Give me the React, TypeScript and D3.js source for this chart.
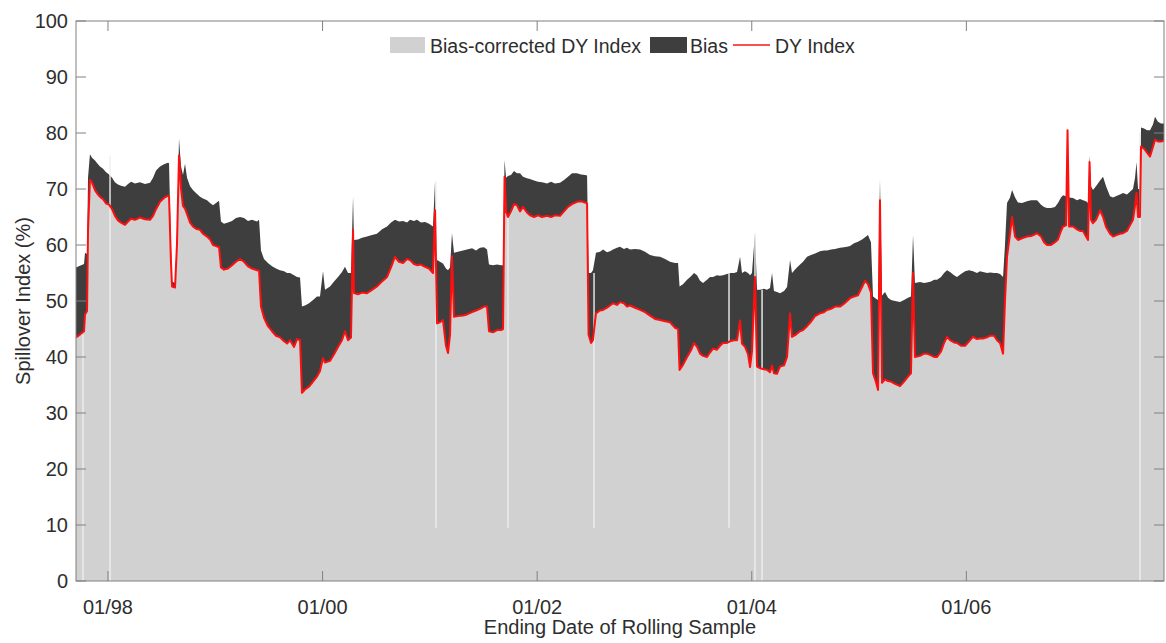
import React from "react";
import * as d3 from "d3";

// Ending date of each rolling sample, in decimal years
const dates = [
  1997.702, 1997.739, 1997.777, 1997.786, 1997.805, 1997.814, 1997.832, 1997.851, 1997.879, 1997.907,
  1997.926, 1997.954, 1997.982, 1998.010, 1998.038, 1998.065, 1998.093, 1998.121, 1998.159, 1998.187,
  1998.215, 1998.252, 1998.298, 1998.345, 1998.392, 1998.420, 1998.448, 1998.485, 1998.522, 1998.559,
  1998.569, 1998.587, 1998.597, 1998.625, 1998.643, 1998.662, 1998.681, 1998.699, 1998.718, 1998.737,
  1998.765, 1998.792, 1998.820, 1998.858, 1998.886, 1998.923, 1998.951, 1998.979, 1999.007, 1999.035,
  1999.053, 1999.081, 1999.119, 1999.156, 1999.193, 1999.231, 1999.268, 1999.305, 1999.342, 1999.389,
  1999.408, 1999.426, 1999.454, 1999.491, 1999.529, 1999.566, 1999.603, 1999.641, 1999.669, 1999.697,
  1999.734, 1999.762, 1999.790, 1999.808, 1999.836, 1999.874, 1999.911, 1999.948, 1999.976, 2000.004,
  2000.023, 2000.069, 2000.107, 2000.144, 2000.181, 2000.209, 2000.237, 2000.265, 2000.284, 2000.293,
  2000.330, 2000.368, 2000.414, 2000.461, 2000.507, 2000.554, 2000.601, 2000.638, 2000.675, 2000.712,
  2000.750, 2000.787, 2000.815, 2000.852, 2000.880, 2000.917, 2000.955, 2000.992, 2001.029, 2001.048,
  2001.067, 2001.094, 2001.122, 2001.150, 2001.169, 2001.188, 2001.206, 2001.225, 2001.262, 2001.309,
  2001.346, 2001.393, 2001.430, 2001.467, 2001.505, 2001.533, 2001.551, 2001.588, 2001.626, 2001.663,
  2001.682, 2001.696, 2001.710, 2001.728, 2001.756, 2001.784, 2001.812, 2001.840, 2001.868, 2001.905,
  2001.933, 2001.971, 2002.008, 2002.045, 2002.092, 2002.129, 2002.166, 2002.213, 2002.250, 2002.287,
  2002.325, 2002.371, 2002.409, 2002.446, 2002.465, 2002.479, 2002.502, 2002.520, 2002.548, 2002.586,
  2002.614, 2002.651, 2002.679, 2002.707, 2002.744, 2002.772, 2002.809, 2002.837, 2002.865, 2002.912,
  2002.959, 2003.005, 2003.052, 2003.098, 2003.145, 2003.192, 2003.238, 2003.285, 2003.313, 2003.327,
  2003.359, 2003.397, 2003.434, 2003.462, 2003.490, 2003.518, 2003.546, 2003.583, 2003.611, 2003.639,
  2003.676, 2003.704, 2003.732, 2003.769, 2003.797, 2003.835, 2003.863, 2003.891, 2003.909, 2003.937,
  2003.965, 2003.984, 2004.002, 2004.030, 2004.049, 2004.077, 2004.114, 2004.142, 2004.170, 2004.189,
  2004.207, 2004.235, 2004.263, 2004.301, 2004.329, 2004.357, 2004.375, 2004.412, 2004.450, 2004.478,
  2004.515, 2004.552, 2004.590, 2004.636, 2004.673, 2004.701, 2004.739, 2004.776, 2004.823, 2004.860,
  2004.888, 2004.916, 2004.953, 2004.990, 2005.028, 2005.056, 2005.083, 2005.111, 2005.130, 2005.158,
  2005.177, 2005.195, 2005.214, 2005.242, 2005.270, 2005.298, 2005.335, 2005.382, 2005.419, 2005.456,
  2005.484, 2005.503, 2005.521, 2005.568, 2005.605, 2005.633, 2005.671, 2005.699, 2005.727, 2005.764,
  2005.792, 2005.820, 2005.848, 2005.885, 2005.913, 2005.950, 2005.988, 2006.025, 2006.062, 2006.099,
  2006.127, 2006.155, 2006.193, 2006.221, 2006.258, 2006.286, 2006.314, 2006.342, 2006.360, 2006.379,
  2006.407, 2006.426, 2006.454, 2006.481, 2006.519, 2006.565, 2006.603, 2006.659, 2006.696, 2006.724,
  2006.752, 2006.789, 2006.826, 2006.854, 2006.882, 2006.901, 2006.929, 2006.943, 2006.957, 2006.994,
  2007.031, 2007.059, 2007.087, 2007.115, 2007.134, 2007.148, 2007.162, 2007.180, 2007.208, 2007.246,
  2007.274, 2007.302, 2007.339, 2007.367, 2007.404, 2007.432, 2007.460, 2007.497, 2007.525, 2007.553,
  2007.572, 2007.586, 2007.600, 2007.618, 2007.628, 2007.656, 2007.684, 2007.712, 2007.739, 2007.758,
  2007.786, 2007.814, 2007.842,
];

// Bias-corrected index level (also the DY index trace), %
const correctedIndex = [
  43.5, 44.0, 44.6, 47.6, 48.2, 62.5, 71.6, 71.2, 69.8, 69.0,
  68.6, 68.2, 67.4, 67.2, 66.4, 65.2, 64.4, 64.0, 63.6, 64.2,
  64.7, 64.5, 64.9, 64.6, 64.5, 65.2, 66.4, 67.7, 68.4, 68.8,
  68.6, 57.0, 52.6, 52.4, 60.0, 76.0, 70.0, 67.0, 66.5, 65.5,
  64.0, 63.3, 62.9, 62.7, 62.0, 61.5, 61.0, 60.0, 59.8, 59.6,
  56.0, 55.6, 55.8, 56.4, 57.0, 57.5, 57.0, 56.2, 55.8, 55.5,
  55.4, 49.0, 47.0, 45.5, 44.6, 43.8, 43.5, 42.8, 42.4, 43.0,
  41.8, 43.2, 43.0, 33.6, 34.2, 34.7, 35.6, 36.5, 37.5, 39.8,
  39.0, 39.3, 40.5, 41.8, 43.0, 44.6, 43.0, 43.5, 62.7, 51.4,
  51.2, 51.5, 51.4, 52.0, 52.6, 53.5, 54.3, 56.0, 57.9, 57.0,
  56.8, 57.5, 57.3, 56.6, 56.4, 56.5, 56.1, 55.8, 55.0, 66.2,
  46.0, 46.2, 46.6, 42.0, 40.7, 44.0, 58.0, 47.2, 47.3, 47.4,
  47.6, 48.0, 48.3, 48.6, 49.0, 49.0, 44.6, 44.4, 44.8, 44.8,
  45.0, 72.2, 66.0, 65.0, 66.0, 67.3, 67.1, 66.0, 66.8, 65.8,
  65.3, 65.0, 65.3, 65.0, 65.2, 65.0, 65.3, 65.2, 66.0, 66.8,
  67.3, 67.7, 67.8, 67.6, 67.4, 44.0, 42.5, 43.0, 47.8, 48.3,
  48.4, 48.8, 49.2, 49.6, 49.3, 49.8, 49.6, 49.0, 49.2, 48.8,
  48.4, 48.0, 47.4, 46.8, 46.6, 46.4, 46.2, 45.2, 45.0, 37.7,
  38.6, 40.0, 41.2, 42.5, 41.8, 40.6, 40.2, 40.0, 40.8, 41.5,
  41.3, 42.0, 42.5, 42.5, 42.8, 43.0, 43.0, 46.5, 42.4, 41.8,
  40.5, 38.2, 41.0, 54.3, 38.3, 38.0, 37.8, 37.7, 37.3, 38.5,
  37.1, 37.0, 38.3, 38.5, 40.0, 47.8, 43.6, 44.0, 44.6, 44.8,
  45.5, 46.3, 47.3, 47.8, 48.0, 48.4, 48.6, 49.0, 49.0, 49.5,
  50.0, 50.5, 50.8, 51.0, 52.5, 53.6, 53.0, 51.5, 37.1, 35.5,
  34.1, 68.0, 35.4, 36.0, 35.7, 35.6, 35.2, 34.8, 35.6, 36.5,
  37.1, 55.0, 40.0, 40.2, 40.6, 40.6, 40.3, 40.0, 40.0, 41.0,
  42.5, 43.6, 43.0, 42.6, 42.5, 42.0, 42.0, 42.8, 43.6, 43.2,
  43.3, 43.3, 43.5, 43.8, 43.8, 43.0, 42.5, 40.6, 50.0, 57.9,
  62.0, 65.0, 61.5, 60.9, 61.2, 61.5, 61.6, 62.1, 61.5, 60.5,
  60.0, 60.0, 60.5, 61.0, 62.5, 63.3, 63.5, 80.5, 63.3, 63.3,
  62.8, 62.5, 62.5, 61.5, 60.9, 74.8, 64.5, 63.9, 64.5, 66.2,
  65.0, 63.2, 62.0, 61.5, 61.8, 62.0, 62.1, 62.5, 63.5, 64.5,
  67.0, 69.3, 65.0, 65.0, 77.6, 77.2, 76.5, 75.8, 77.5, 78.8,
  78.5, 78.5, 78.6,
];

// Upper edge of the bias band, %
const biasUpper = [
  56.0, 56.3, 56.6, 58.6, 58.4, 72.0, 76.2, 75.6, 75.1, 74.4,
  74.0, 73.6, 73.0, 72.6, 72.0, 71.2, 70.8, 70.6, 70.4, 70.9,
  71.3, 71.0, 71.2, 70.9, 71.1, 72.0, 73.3, 74.0, 74.4, 74.7,
  74.6, 60.0, 53.5, 53.2, 62.0, 79.0, 74.0, 72.5, 74.5, 72.0,
  70.5, 69.8, 69.3, 68.6, 68.3, 68.0, 67.5, 67.1, 67.5, 67.9,
  64.2, 63.8, 64.0, 64.3, 64.8, 65.0, 64.8, 64.3, 64.5, 64.2,
  64.5, 59.0, 57.5, 56.8, 56.2, 55.8, 55.5, 55.3, 55.0, 55.0,
  54.6, 54.3, 54.2, 49.0, 49.2, 49.6, 50.2, 50.8, 50.8, 55.3,
  52.0, 52.6, 53.5, 54.3, 55.2, 56.1, 55.0, 55.0, 68.6, 60.9,
  61.0, 61.3, 61.5, 61.8, 62.0, 62.8, 63.3, 64.0, 64.5, 64.2,
  64.3, 64.0, 64.5, 64.3, 64.5, 64.0, 64.1, 63.8, 63.3, 71.3,
  57.3, 57.0, 56.7, 55.8, 55.5, 56.0, 62.1, 58.6, 58.8, 59.0,
  59.2, 59.4, 59.0, 59.5, 59.6, 59.2, 56.5, 56.4, 56.5, 56.4,
  56.4, 75.2, 72.0, 72.3, 72.5, 73.2, 72.8, 72.8, 72.2, 71.9,
  71.8, 71.5, 71.3, 71.2, 71.0, 71.3, 71.0, 71.1, 71.6, 72.2,
  72.8, 72.8, 72.6, 72.5, 72.4, 55.0, 55.0, 55.5, 58.6, 58.8,
  59.2, 58.7, 58.9, 59.2, 59.5, 59.7, 59.3, 59.5, 59.2, 59.3,
  59.2, 58.8, 58.2, 58.0, 57.9, 57.5, 57.0, 56.8, 56.8, 52.6,
  53.0, 53.8, 54.4, 55.0, 54.6, 53.6, 53.2, 53.8, 54.3, 54.3,
  54.6, 54.5, 54.6, 54.8, 55.0, 55.0, 55.2, 57.9, 55.0, 55.3,
  55.0, 54.6, 55.0, 62.1, 52.0, 52.0, 52.2, 52.0, 52.3, 55.0,
  51.8, 51.6, 51.4, 51.8, 52.5, 57.3, 55.0, 55.8, 56.5, 57.0,
  57.9, 58.2, 58.5, 58.9, 59.0, 59.0, 59.2, 59.3, 59.5, 59.6,
  59.7, 59.8, 60.3, 60.6, 61.0, 61.4, 61.8, 60.5, 50.8, 50.4,
  50.2, 71.6, 51.0, 51.6, 50.6, 50.2, 50.0, 49.8, 50.2, 50.6,
  50.8, 61.8, 53.2, 53.4, 53.2, 53.3, 53.5, 53.8, 53.8, 54.3,
  55.0, 55.5, 55.2, 54.6, 54.3, 54.8, 55.3, 55.5, 55.3, 55.0,
  55.3, 55.2, 55.0, 55.1, 55.0, 55.0, 54.8, 54.3, 60.0, 67.5,
  68.5, 69.8, 68.5, 67.6, 67.5, 67.8, 68.0, 68.0, 67.2, 66.8,
  66.6, 66.6, 66.8, 67.5, 68.5, 68.9, 68.7, 80.5, 68.5, 68.4,
  68.0, 68.2, 68.0, 67.8, 67.5, 76.0, 70.5, 69.8, 70.5, 71.5,
  72.2, 70.5, 68.7, 68.5, 68.8, 69.0, 69.3, 69.0, 69.5, 70.0,
  72.0, 74.8, 70.0, 70.0, 81.0, 80.8, 80.5, 80.5, 81.5, 82.9,
  82.0, 81.7, 81.7,
];

// Breaks between rolling windows, drawn as thin pale strokes
const gapDates = [1997.767, 1998.019, 2001.057, 2001.728, 2002.53, 2003.788, 2004.03, 2004.096, 2007.618];
const gapFloors = [0, 0, 9.5, 9.5, 9.5, 9.5, 0, 0, 0];
const gapTops = [44, 76, 71.3, 65, 55, 55, 62.1, 52, 80];

const yTicks = [0, 10, 20, 30, 40, 50, 60, 70, 80, 90, 100];
const xTickYears = [1998, 2000, 2002, 2004, 2006];
const xTickLabels = ["01/98", "01/00", "01/02", "01/04", "01/06"];
const legendLabels = ["Bias-corrected DY Index", "Bias", "DY Index"];

const FONT = "'Liberation Sans', Arial, Helvetica, sans-serif";
const LIGHT = "#d1d1d1";
const DARK = "#3e3e3e";
const RED = "#ff1010";
const AXIS = "#808080";
const TEXT = "#2e2e2e";

export default function App() {
  const W = 1166;
  const H = 643;
  const plot = { left: 76, right: 1164, top: 21, bottom: 581 };

  const x = d3
    .scaleLinear()
    .domain([dates[0], dates[dates.length - 1]])
    .range([plot.left, plot.right]);
  const y = d3.scaleLinear().domain([0, 100]).range([plot.bottom, plot.top]);

  const n = Math.min(dates.length, correctedIndex.length, biasUpper.length);
  const rows = d3.range(n).map((i) => ({ t: dates[i], lo: correctedIndex[i], hi: biasUpper[i] }));

  const lightArea = d3
    .area<any>()
    .x((d) => x(d.t))
    .y0(y(0))
    .y1((d) => y(d.lo))(rows);
  const darkArea = d3
    .area<any>()
    .x((d) => x(d.t))
    .y0((d) => y(d.lo))
    .y1((d) => y(d.hi))(rows);
  const redLine = d3
    .line<any>()
    .x((d) => x(d.t))
    .y((d) => y(d.lo))(rows);

  const tickLen = 10;

  return (
    <svg
      width={W}
      height={H}
      style={{ position: "absolute", left: 0, top: 0, background: "#fff" }}
      fontFamily={FONT}
    >
      <defs>
        <clipPath id="plot-clip">
          <rect x={plot.left} y={plot.top} width={plot.right - plot.left} height={plot.bottom - plot.top} />
        </clipPath>
      </defs>

      <g clipPath="url(#plot-clip)">
        <path d={lightArea || ""} fill={LIGHT} />
        <path d={darkArea || ""} fill={DARK} />
        {gapDates.map((g, i) => (
          <line
            key={"gap" + i}
            x1={x(g)}
            x2={x(g)}
            y1={y(gapFloors[i])}
            y2={y(gapTops[i])}
            stroke="#efefef"
            strokeWidth={1.4}
          />
        ))}
        <path d={redLine || ""} fill="none" stroke={RED} strokeWidth={2} strokeLinejoin="round" />
      </g>

      {/* axes box */}
      <rect
        x={plot.left}
        y={plot.top}
        width={plot.right - plot.left}
        height={plot.bottom - plot.top}
        fill="none"
        stroke={AXIS}
        strokeWidth={1}
      />

      {/* y ticks, left and right, pointing inward */}
      {yTicks.map((v) => (
        <g key={"y" + v}>
          <line x1={plot.left} x2={plot.left + tickLen} y1={y(v)} y2={y(v)} stroke={AXIS} />
          <line x1={plot.right} x2={plot.right - tickLen} y1={y(v)} y2={y(v)} stroke={AXIS} />
          <text x={plot.left - 8} y={y(v) + 7} textAnchor="end" fontSize={20} fill={TEXT}>
            {v}
          </text>
        </g>
      ))}

      {/* x ticks, bottom and top, pointing inward */}
      {xTickYears.map((yr, i) => (
        <g key={"x" + yr}>
          <line x1={x(yr)} x2={x(yr)} y1={plot.bottom} y2={plot.bottom - tickLen} stroke={AXIS} />
          <line x1={x(yr)} x2={x(yr)} y1={plot.top} y2={plot.top + tickLen} stroke={AXIS} />
          <text x={x(yr)} y={614} textAnchor="middle" fontSize={20} fill={TEXT}>
            {xTickLabels[i]}
          </text>
        </g>
      ))}

      <text x={(plot.left + plot.right) / 2} y={634} textAnchor="middle" fontSize={20} fill={TEXT}>
        Ending Date of Rolling Sample
      </text>
      <text
        transform={`translate(30, ${(plot.top + plot.bottom) / 2}) rotate(-90)`}
        textAnchor="middle"
        fontSize={20}
        fill={TEXT}
      >
        Spillover Index (%)
      </text>

      {/* legend */}
      <g fontSize={19.5} fill={TEXT}>
        <rect x={390} y={37} width={35} height={16} fill={LIGHT} />
        <text x={430} y={53}>{legendLabels[0]}</text>
        <rect x={650} y={37} width={37} height={16} fill={DARK} />
        <text x={690} y={53}>{legendLabels[1]}</text>
        <line x1={733} x2={770} y1={45} y2={45} stroke={RED} strokeWidth={1.6} />
        <text x={775} y={53}>{legendLabels[2]}</text>
      </g>
    </svg>
  );
}
